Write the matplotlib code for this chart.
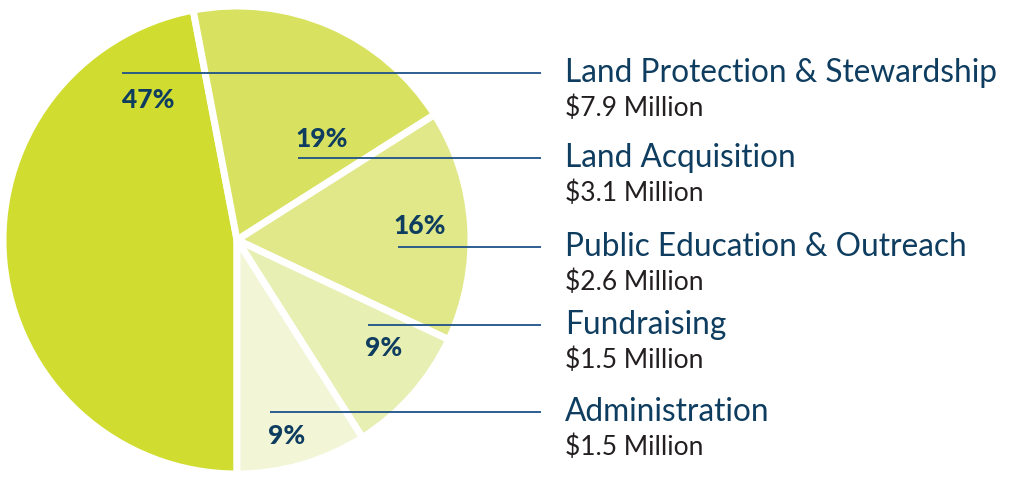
import matplotlib
matplotlib.use("Agg")
import matplotlib.pyplot as plt

categories = ["Land Protection & Stewardship", "Land Acquisition",
              "Public Education & Outreach", "Fundraising", "Administration"]
amounts = ["$7.9 Million", "$3.1 Million", "$2.6 Million", "$1.5 Million", "$1.5 Million"]
percents = [47, 19, 16, 9, 9]

colors = ["#d0dd30", "#d9e260", "#e1e88a", "#e8efb2", "#f2f6d7"]
navy = "#0e3d60"
line_col = "#1d5189"
amount_col = "#231f20"

W, H = 1022, 486
fig = plt.figure(figsize=(W / 100, H / 100), dpi=100)
ax = fig.add_axes([0, 0, 1, 1])

cx, cy, r = 237, H - 240, 234
ax.pie(percents, colors=colors, startangle=-90, counterclock=False,
       center=(cx, cy), radius=r, frame=True,
       wedgeprops=dict(edgecolor="white", linewidth=5, joinstyle="round"))
ax.set_xlim(0, W)
ax.set_ylim(0, H)
ax.set_aspect("equal")
ax.axis("off")

# leader lines (start x, y) in pixel coords
line_y = [73, 158, 247, 325, 412]
line_x0 = [122, 298, 398, 368, 270]
pct_xy = [(148, 100), (322, 139), (420, 226), (384, 348), (287, 436)]
line_x1 = 541
text_x = 565

for i in range(len(categories)):
    y = H - line_y[i]
    ax.plot([line_x0[i], line_x1], [y, y], color=line_col, lw=1.3,
            solid_capstyle="butt", zorder=5)
    ax.text(text_x, y, categories[i], fontsize=22.8, family="Lato",
            color=navy, va="center", ha="left")
    ax.text(text_x, y - 35, amounts[i], fontsize=19, family="Lato",
            color=amount_col, va="center", ha="left")
    px, py = pct_xy[i]
    ax.text(px, H - py, f"{percents[i]}%", fontsize=19, family="Lato",
            weight="black", color=navy, va="center", ha="center", zorder=6)

fig.savefig("out.png", dpi=100)
